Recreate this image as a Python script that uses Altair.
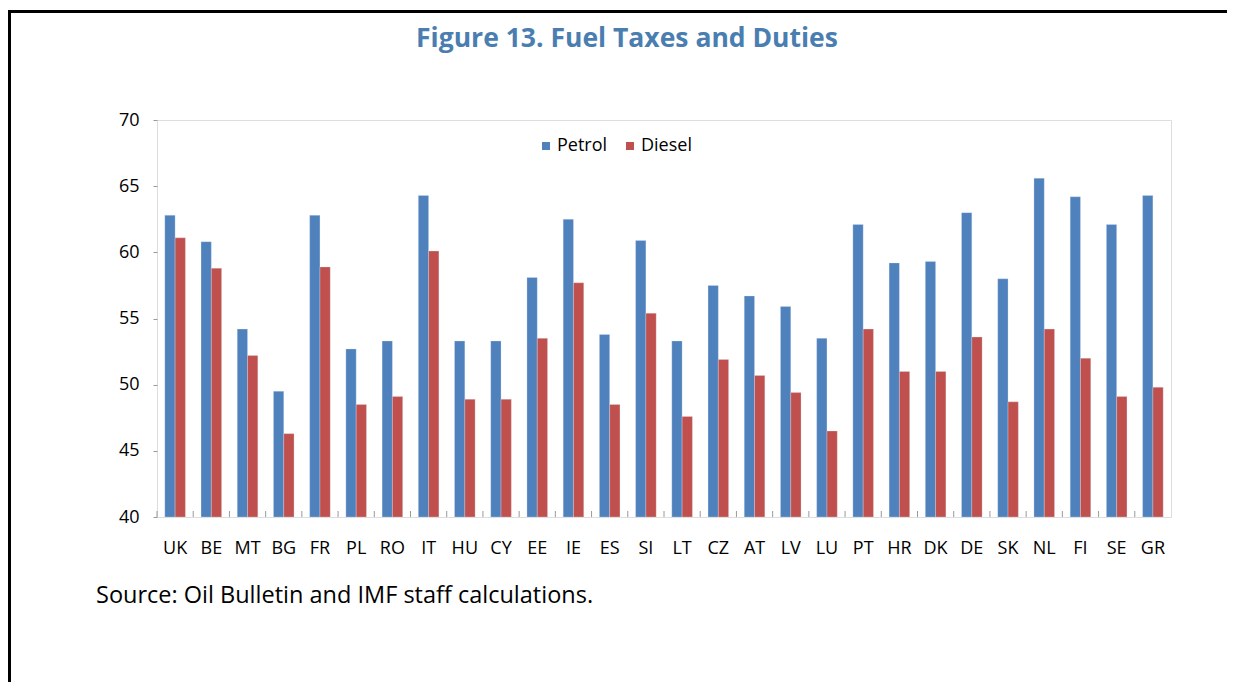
import altair as alt
import pandas as pd

countries = ["UK", "BE", "MT", "BG", "FR", "PL", "RO", "IT", "HU", "CY", "EE", "IE", "ES", "SI",
             "LT", "CZ", "AT", "LV", "LU", "PT", "HR", "DK", "DE", "SK", "NL", "FI", "SE", "GR"]
petrol = [62.8, 60.8, 54.2, 49.5, 62.8, 52.7, 53.3, 64.3, 53.3, 53.3, 58.1, 62.5, 53.8, 60.9,
          53.3, 57.5, 56.7, 55.9, 53.5, 62.1, 59.2, 59.3, 63.0, 58.0, 65.6, 64.2, 62.1, 64.3]
diesel = [61.1, 58.8, 52.2, 46.3, 58.9, 48.5, 49.1, 60.1, 48.9, 48.9, 53.5, 57.7, 48.5, 55.4,
          47.6, 51.9, 50.7, 49.4, 46.5, 54.2, 51.0, 51.0, 53.6, 48.7, 54.2, 52.0, 49.1, 49.8]
series = ["Petrol", "Diesel"]
colors = ["#4F81BD", "#C0504D"]
y_ticks = [40, 45, 50, 55, 60, 65, 70]
title_text = ["Figure 13. Fuel Taxes and Duties"]
source_text = ["Source: Oil Bulletin and IMF staff calculations."]

rows = []
for c, p, d in zip(countries, petrol, diesel):
    rows.append({"Country": c, "Fuel": "Petrol", "Value": p})
    rows.append({"Country": c, "Fuel": "Diesel", "Value": d})
df = pd.DataFrame(rows)

W, H = 1014, 397
FONT = "Open Sans"
LEFT, TOP = 149, 112

x_enc = alt.X("Country:N", sort=countries,
              scale=alt.Scale(paddingInner=0, paddingOuter=0),
              axis=alt.Axis(title=None, labelAngle=0, ticks=False, domain=False,
                            labelFont=FONT, labelFontSize=18, labelColor="#000000",
                            labelPadding=22))

bars = alt.Chart(df).mark_bar(stroke="#dde8f5", strokeWidth=0.5, strokeOpacity=0.6).encode(
    x=x_enc,
    xOffset=alt.XOffset("Fuel:N", sort=series,
                        scale=alt.Scale(domain=series, paddingInner=0, paddingOuter=0.76)),
    y=alt.Y("Value:Q",
            scale=alt.Scale(domain=[40, 70], nice=False, zero=False),
            axis=alt.Axis(values=y_ticks, title=None, domain=False, grid=False,
                          tickSize=4, tickColor="#9a9a9a", labelFont=FONT,
                          labelFontSize=18, labelColor="#000000", labelPadding=14)),
    y2=alt.datum(40),
    color=alt.Color("Fuel:N", sort=series,
                    scale=alt.Scale(domain=series, range=colors),
                    legend=alt.Legend(title=None, orient="none", legendX=380, legendY=17,
                                      direction="horizontal", symbolType="square",
                                      symbolSize=64, symbolStrokeWidth=0,
                                      labelFont=FONT, labelFontSize=18,
                                      labelColor="#000000", columnPadding=13,
                                      labelOffset=2)),
)

ticks = alt.Chart(pd.DataFrame({"Country": countries})).mark_rule(
    color="#9a9a9a", strokeWidth=1).encode(
    x=alt.X("Country:N", sort=countries, bandPosition=0),
    y=alt.value(H - 6), y2=alt.value(H),
)

title = alt.Chart(pd.DataFrame({"t": title_text})).mark_text(
    font=FONT, fontSize=26.5, fontWeight="bold", color="#4A7EB0",
    align="center", baseline="middle").encode(
    text="t:N", x=alt.value(470), y=alt.value(-81))

source = alt.Chart(pd.DataFrame({"t": source_text})).mark_text(
    font=FONT, fontSize=23.5, color="#000000", align="left", baseline="middle").encode(
    text="t:N", x=alt.value(-61), y=alt.value(476))

frame_top = alt.Chart(pd.DataFrame({"a": [0]})).mark_rule(color="#000000", strokeWidth=3).encode(
    x=alt.value(-LEFT), x2=alt.value(W + 80), y=alt.value(-108.5))
frame_left = alt.Chart(pd.DataFrame({"a": [0]})).mark_rule(color="#000000", strokeWidth=3).encode(
    x=alt.value(-LEFT + 1.5), y=alt.value(-110), y2=alt.value(H + 170))

chart = alt.layer(bars, ticks, title, source, frame_top, frame_left).properties(
    width=W, height=H,
    padding={"left": LEFT, "top": TOP, "right": 56, "bottom": 165},
    autosize=alt.AutoSizeParams(type="none"),
).configure_view(
    stroke="#a8a8a8", strokeWidth=1, strokeDash=[2, 1]
).configure(background="#ffffff")

chart.save("out.html", embed_options={"renderer": "svg", "actions": False})
